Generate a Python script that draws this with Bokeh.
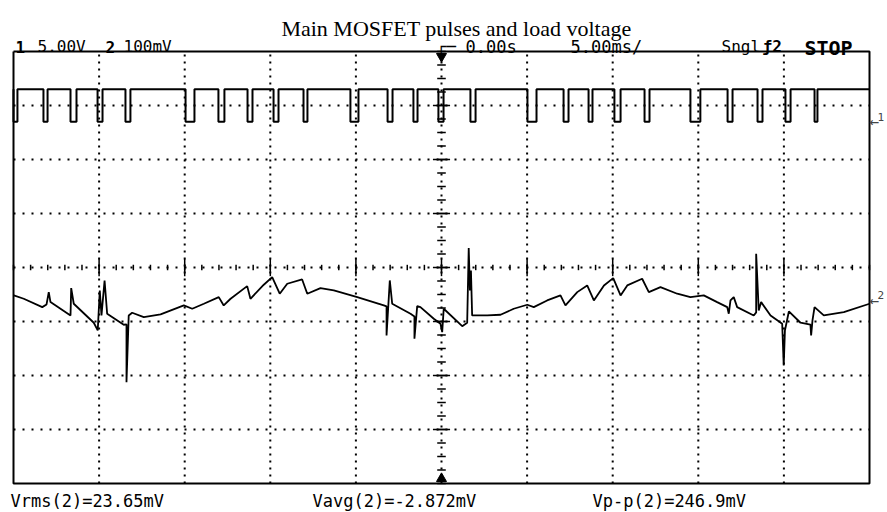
import numpy as np
from bokeh.plotting import figure
from bokeh.models import Range1d, Label
from bokeh.embed import file_html
from bokeh.resources import INLINE

# ---------------- scope settings ----------------
time_per_div_ms = 5.0
ch1_volts_per_div = 5.0
ch2_mv_per_div = 100.0
ch1_position_div = 2.70      # ch1 ground marker position (divisions from centre)
ch2_position_div = -0.61     # ch2 ground marker position
trigger_time_ms = 0.0

# ---------------- channel 1 : MOSFET gate pulses ----------------
ch1_high_v = 3.0
ch1_low_v = 0.0
pulse_fall_ms = [-25.0, -23.25, -21.67, -20.09, -18.46, -14.95, -13.03, -11.33, -9.81,
                 -8.06, -5.32, -3.15, -1.64, -0.18, 1.69, 5.02, 7.13, 8.59, 10.10,
                 11.86, 14.54, 16.71, 18.46, 20.09, 21.79]
pulse_rise_ms = [-24.77, -23.01, -21.32, -19.80, -18.17, -14.43, -12.68, -11.04, -9.52,
                 -7.83, -4.85, -2.86, -1.40, 0.12, 1.99, 5.55, 7.42, 8.82, 10.46,
                 12.15, 15.12, 17.00, 18.75, 20.39, 21.96]

# ---------------- channel 2 : load voltage (mV) ----------------
ch2_time_ms = [-24.98, -24.40, -23.32, -23.07, -22.94, -22.84, -21.67, -21.63, -21.48,
               -20.31, -20.08, -19.96, -19.86, -19.68, -19.53, -18.56, -18.40, -18.40,
               -18.27, -18.07, -17.39, -16.41, -15.05, -14.56, -13.88, -13.01, -12.72,
               -12.32, -11.35, -11.16, -10.38, -9.89, -9.45, -9.01, -8.14, -7.84, -7.07,
               -6.29, -4.92, -3.37, -3.21, -3.21, -3.02, -2.88, -1.81, -1.58, -1.58,
               -1.42, -1.23, -0.45, -0.06, 0.04, 0.13, 1.21, 1.50, 1.59, 1.66, 1.72,
               1.79, 2.67, 3.45, 4.22, 5.01, 5.39, 6.17, 6.95, 7.24, 7.93, 8.51, 8.90,
               9.49, 10.03, 10.46, 10.85, 11.72, 12.11, 12.79, 13.77, 14.54, 15.32,
               16.10, 16.69, 16.78, 16.88, 17.07, 17.27, 18.24, 18.38, 18.38, 18.53,
               18.67, 19.22, 19.90, 19.99, 20.06, 20.29, 20.97, 21.55, 21.59, 21.67,
               21.79, 22.33, 23.50, 25.00]
ch2_mv = [9.3, 3.1, -12.4, -7.4, 15.4, -3.1, -27.8, 22.8, -6.1,
          -41.3, -55.6, 18.5, -27.8, 37.0, -24.6, -45.0, -44.4, -151.3,
          -27.8, -22.8, -30.9, -25.9, -9.3, -15.4, -6.1, 6.1, -9.3,
          3.1, 26.5, 3.1, 29.1, 43.2, 12.4, 30.9, 38.9, 12.4, 22.8,
          18.5, 6.1, -9.3, -11.1, -64.8, 37.0, -6.1, -24.6, -29.6, -70.9,
          -10.6, -12.4, -33.9, -43.2, -58.7, -15.4, -47.6, -41.3, 96.9, 18.5, 55.6,
          -27.8, -27.8, -26.5, -15.4, -8.0, -12.4, 0.0, 9.3, -9.3, 15.4, 27.8, 0.0,
          27.8, 41.3, 9.3, 27.8, 40.2, 15.4, 24.6, 12.4, 6.1, 9.3,
          -3.1, -12.4, -24.6, 0.0, 6.1, -12.4, -27.8, -22.2, 86.5, -18.5,
          -3.1, -27.8, -43.2, -120.4, -55.6, -20.4, -41.3, -45.0, -64.8, -37.0,
          -12.4, -27.8, -21.7, -6.1]

# ---------------- texts ----------------
title_text = "Main MOSFET pulses and load voltage"
ch1_label, ch1_scale = "1", "5.00V"
ch2_label, ch2_scale = "2", "100mV"
delay_mark, delay_text = "┌─", "0.00s"
timebase_text = "5.00ms/"
mode_text, trig_text, run_text = "Sngl", "ƒ2", "STOP"
meas_texts = ["Vrms(2)=23.65mV", "Vavg(2)=-2.872mV", "Vp-p(2)=246.9mV"]

# ---------------- geometry (canvas pixels) ----------------
n_hdiv, n_vdiv = 10, 8
x_half = n_hdiv / 2 * time_per_div_ms
y_half = n_vdiv / 2
W, H = 885, 511
SCR_L, SCR_R, SCR_T, SCR_B = 13, 869, 51, 483
PX = (SCR_R - SCR_L) / (2 * x_half)   # px per ms
PY = (SCR_B - SCR_T) / (2 * y_half)   # px per div
CX, CY = (SCR_L + SCR_R) / 2, (SCR_T + SCR_B) / 2


def xd(px):
    return (px - CX) / PX


def yd(py):
    return (CY - py) / PY


p = figure(width=W, height=H, output_backend="svg", toolbar_location=None,
           x_axis_type=None, y_axis_type=None,
           x_range=Range1d(xd(0), xd(W)), y_range=Range1d(yd(H), yd(0)),
           min_border=0, min_border_left=0, min_border_right=0,
           min_border_top=0, min_border_bottom=0,
           background_fill_color="white", border_fill_color="white")
p.outline_line_color = None

# dotted graticule
for yy in range(-3, 4):
    p.line([-x_half, x_half], [yy, yy], line_color="black", line_width=2, line_dash="2 7")
for k in range(-4, 5):
    xx = k * time_per_div_ms
    p.line([xx, xx], [-y_half, y_half], line_color="black", line_width=2, line_dash="2 5")

# screen border
p.line([-x_half, x_half, x_half, -x_half, -x_half], [y_half, y_half, -y_half, -y_half, y_half],
       line_color="black", line_width=2)

# centre-axis ticks
minor_x = np.arange(-x_half, x_half + 0.01, time_per_div_ms / 5)
p.segment(x0=minor_x, x1=minor_x, y0=-0.05, y1=0.05, line_color="black", line_width=1.5)
major_x = np.arange(-x_half + time_per_div_ms, x_half - 0.01, time_per_div_ms)
p.segment(x0=major_x, x1=major_x, y0=-0.16, y1=0.16, line_color="black", line_width=1.5)
minor_y = np.arange(-y_half, y_half + 0.01, 0.25)
p.segment(x0=-0.25, x1=0.25, y0=minor_y, y1=minor_y, line_color="black", line_width=1.5)
major_y = np.arange(-y_half + 1, y_half - 0.01, 1.0)
p.segment(x0=-0.5, x1=0.5, y0=major_y, y1=major_y, line_color="black", line_width=1.5)

# trigger markers
p.scatter(x=[trigger_time_ms], y=[y_half - 0.09], marker="inverted_triangle", size=10,
          color="black")
p.scatter(x=[trigger_time_ms], y=[-y_half + 0.09], marker="triangle", size=10, color="black")

# channel 1 trace (step waveform)
t1, y1 = [], []
for f, r in zip(pulse_fall_ms, pulse_rise_ms):
    t1 += [f, f, r, r]
    y1 += [ch1_high_v, ch1_low_v, ch1_low_v, ch1_high_v]
t1.append(x_half)
y1.append(ch1_high_v)
y1_div = [ch1_position_div + v / ch1_volts_per_div for v in y1]
p.line(t1, y1_div, line_color="black", line_width=2)

# channel 2 trace
y2_div = [ch2_position_div + v / ch2_mv_per_div for v in ch2_mv]
p.line(ch2_time_ms, y2_div, line_color="black", line_width=1.8)

# ---------------- labels ----------------
mono = "DejaVu Sans Mono"


def lab(px, py, text, size="16px", font=mono, style="normal", align="left",
        baseline="alphabetic"):
    p.add_layout(Label(x=xd(px), y=yd(py), text=text, text_font=font,
                       text_font_size=size, text_font_style=style, text_align=align,
                       text_baseline=baseline, text_color="black"))


lab(456, 28, title_text, size="22px", font="Liberation Serif", align="center")
lab(15, 46, ch1_label, style="bold")
lab(37, 46, ch1_scale)
lab(105, 46, ch2_label, style="bold")
lab(123, 46, ch2_scale)
lab(436, 46, delay_mark)
lab(465, 46, delay_text, size="17px")
lab(570, 46, timebase_text, size="17px")
lab(721, 46, mode_text)
lab(762, 46, trig_text, style="bold")
lab(828, 47, run_text, size="20px", style="bold", align="center")
lab(10, 500, meas_texts[0], size="17px")
lab(312, 500, meas_texts[1], size="17px")
lab(592, 500, meas_texts[2], size="17px")

# channel ground markers at the right edge
for pos, name in [(ch1_position_div, "1"), (ch2_position_div, "2")]:
    p.add_layout(Label(x=x_half, y=pos, text="←", text_font=mono, text_font_size="16px",
                       text_baseline="middle", text_align="left", x_offset=0))
    p.add_layout(Label(x=x_half, y=pos, text=name, text_font=mono, text_font_size="11px",
                       text_baseline="bottom", text_align="left", x_offset=8, y_offset=1))

open("out.html", "w").write(file_html(p, INLINE))
